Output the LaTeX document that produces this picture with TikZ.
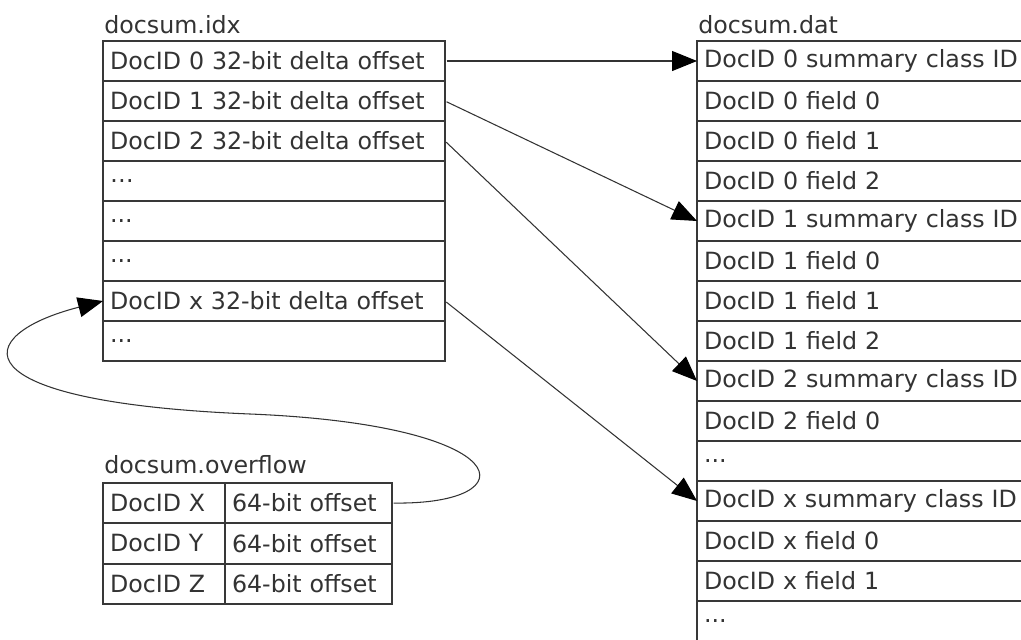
\documentclass[tikz,border=0pt]{standalone}
\usepackage{fontspec}
\setmainfont{DejaVu Sans}
\usetikzlibrary{arrows.meta}
\definecolor{StoreInk}{gray}{0.2}
\definecolor{StoreLine}{gray}{0.22}
\tikzset{
    store/diagram/.style={
        x=0.02cm, y=-0.02cm,
        font=\fontsize{13.5}{16}\selectfont,
        text=StoreInk,
        line join=miter
    },
    store/cell/.style={
        draw=StoreLine, line width=0.8pt,
        minimum height=0.8cm, inner xsep=0.14cm, inner ysep=0pt,
        outer sep=0pt, align=left
    },
    store/idx/.style={store/cell, text width=6.56cm},
    store/dat/.style={store/cell, text width=6.72cm},
    store/key/.style={store/cell, text width=2.16cm},
    store/offset/.style={store/cell, text width=3.06cm},
    store/title/.style={anchor=base west, inner sep=0pt},
    store/link/.style={
        draw=StoreInk, line width=0.6pt, shorten <=1pt,
        -{Triangle[length=0.5cm, width=0.4cm, color=black]}
    }
}
\begin{document}
\begin{tikzpicture}[store/diagram]
    \useasboundingbox (0,0) rectangle (1021,639);
    \clip (0,0) rectangle (1021,639);
    \fill[white] (0,0) rectangle (1021,639);
    % index file
    \node[store/title] (idxname) at (104,33) {docsum.idx};
    \node[store/idx] (idx0) at (274,61) {DocID 0 32-bit delta offset};
    \node[store/idx] (idx1) at (274,101) {DocID 1 32-bit delta offset};
    \node[store/idx] (idx2) at (274,141) {DocID 2 32-bit delta offset};
    \node[store/idx] (idx3) at (274,181) {…};
    \node[store/idx] (idx4) at (274,221) {...};
    \node[store/idx] (idx5) at (274,261) {...};
    \node[store/idx] (idxx) at (274,301) {DocID x 32-bit delta offset};
    \node[store/idx] (idx7) at (274,341) {...};
    % data file
    \node[store/title] (datname) at (698,33) {docsum.dat};
    \node[store/dat] (dat0) at (872,61) {DocID 0 summary class ID};
    \node[store/dat] (dat1) at (872,101) {DocID 0 field 0};
    \node[store/dat] (dat2) at (872,141) {DocID 0 field 1};
    \node[store/dat] (dat3) at (872,181) {DocID 0 field 2};
    \node[store/dat] (dat4) at (872,221) {DocID 1 summary class ID};
    \node[store/dat] (dat5) at (872,261) {DocID 1 field 0};
    \node[store/dat] (dat6) at (872,301) {DocID 1 field 1};
    \node[store/dat] (dat7) at (872,341) {DocID 1 field 2};
    \node[store/dat] (dat8) at (872,381) {DocID 2 summary class ID};
    \node[store/dat] (dat9) at (872,421) {DocID 2 field 0};
    \node[store/dat] (dat10) at (872,461) {...};
    \node[store/dat] (dat11) at (872,501) {DocID x summary class ID};
    \node[store/dat] (dat12) at (872,541) {DocID x field 0};
    \node[store/dat] (dat13) at (872,581) {DocID x field 1};
    \node[store/dat] (dat14) at (872,621) {...};
    % overflow file
    \node[store/title] (ovname) at (104,473) {docsum.overflow};
    \node[store/key] (ovkeyX) at (164,503) {DocID X};
    \node[store/offset] (ovoffX) at (308.5,503) {64-bit offset};
    \node[store/key] (ovkeyY) at (164,543.5) {DocID Y};
    \node[store/offset] (ovoffY) at (308.5,543.5) {64-bit offset};
    \node[store/key] (ovkeyZ) at (164,584) {DocID Z};
    \node[store/offset] (ovoffZ) at (308.5,584) {64-bit offset};
    % offsets into the data file
    \draw[store/link] (idx0.east) -- (dat0.west);
    \draw[store/link] (idx1.east) -- (dat4.west);
    \draw[store/link] (idx2.east) -- (dat8.west);
    \draw[store/link] (idxx.east) -- (dat11.west);
    % overflow entry back to the index
    \draw[store/link] (ovoffX.east)
        .. controls (530,505) and (520,425) .. (250,414)
        .. controls (-45,402) and (-30,335) .. (idxx.west);
\end{tikzpicture}
\end{document}
